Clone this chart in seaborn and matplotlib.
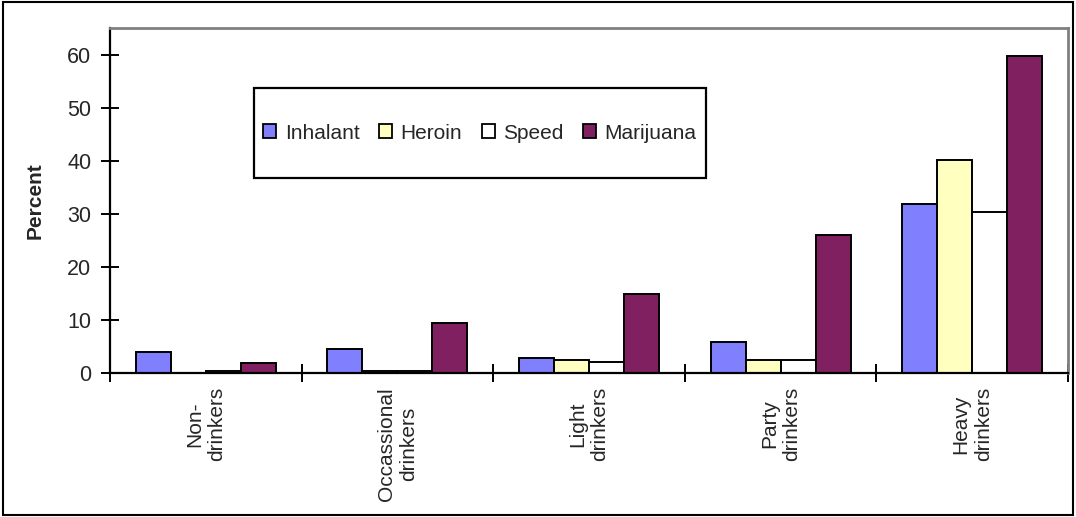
import matplotlib
matplotlib.use("Agg")
import matplotlib.pyplot as plt
from matplotlib.patches import Rectangle, Patch
import seaborn as sns
import pandas as pd
import numpy as np

# Drinking groups and share (%) using each drug
groups = ["Non-\ndrinkers", "Occassional\ndrinkers", "Light\ndrinkers",
          "Party\ndrinkers", "Heavy\ndrinkers"]
drugs = ["Inhalant", "Heroin", "Speed", "Marijuana"]
inhalant = [4.0, 4.5, 2.9, 5.9, 31.9]
heroin = [0.0, 0.3, 2.5, 2.5, 40.2]
speed = [0.3, 0.3, 2.1, 2.5, 30.3]
marijuana = [1.8, 9.4, 14.9, 26.0, 59.8]
colors = ["#8080FF", "#FFFFC0", "#FFFFFF", "#802060"]
y_ticks = [0, 10, 20, 30, 40, 50, 60]

df = pd.DataFrame({
    "group": groups * 4,
    "drug": np.repeat(drugs, len(groups)),
    "percent": inhalant + heroin + speed + marijuana,
})

sns.set_theme(style="white")
plt.rcParams["font.family"] = ["Liberation Sans", "DejaVu Sans"]
FS = 15
W, H = 1076, 517

fig = plt.figure(figsize=(W / 100, H / 100), dpi=100)
ax = fig.add_axes([110 / W, 1 - 373 / H, (1068 - 110) / W, (373 - 28) / H])

sns.barplot(data=df, x="group", y="percent", hue="drug", order=groups,
            hue_order=drugs, palette=colors, saturation=1, width=0.73, gap=0,
            edgecolor="black", linewidth=1.4, ax=ax, legend=False)

ax.set_ylim(0, 65)
ax.set_xlim(-0.5, len(groups) - 0.5)
ax.set_yticks(y_ticks)
ax.set_yticklabels([str(t) for t in y_ticks])
ax.tick_params(axis="y", direction="inout", length=13, width=1.4, color="black",
               pad=7, left=True, labelsize=15.5)

# group names at the centres, tick marks on the boundaries between groups
ax.set_xticks(np.arange(len(groups)))
ax.set_xticklabels(groups, rotation=90, fontsize=FS, linespacing=1.2,
                   multialignment="center", ha="center", va="top")
ax.tick_params(axis="x", which="major", length=0, pad=10)
ax.set_xticks(np.arange(-0.5, len(groups)), minor=True)
ax.tick_params(axis="x", which="minor", direction="inout", length=13, width=1.4,
               color="black", bottom=True)

ax.set_xlabel("")
ax.set_ylabel("Percent", fontsize=FS, fontweight="bold", labelpad=16)

for side in ["left", "bottom"]:
    ax.spines[side].set_color("black")
    ax.spines[side].set_linewidth(1.6)
for side in ["top", "right"]:
    ax.spines[side].set_color("#808080")
    ax.spines[side].set_linewidth(2.0)

# legend box, with the entries centred in it
box_x0, box_y0, box_x1, box_y1 = 254, 88, 706, 178
fig.patches.append(Rectangle((box_x0 / W, 1 - box_y1 / H), (box_x1 - box_x0) / W,
                             (box_y1 - box_y0) / H, transform=fig.transFigure,
                             facecolor="white", edgecolor="black", linewidth=1.6,
                             zorder=5))
handles = [Patch(facecolor=c, edgecolor="black", linewidth=1.3) for c in colors]
leg = fig.legend(handles, drugs, loc="center",
                 bbox_to_anchor=((box_x0 + box_x1) / 2 / W, 1 - (box_y0 + box_y1) / 2 / H),
                 ncol=4, fontsize=FS, frameon=False,
                 handlelength=0.62, handleheight=0.62,
                 handletextpad=0.4, columnspacing=0.95, borderaxespad=0, borderpad=0)
leg.set_zorder(6)

# outer chart border
fig.patches.append(Rectangle((3 / W, 2 / H), 1070 / W, 513 / H,
                             transform=fig.transFigure, fill=False,
                             edgecolor="black", linewidth=1.5))

fig.savefig("out.png", dpi=100)
